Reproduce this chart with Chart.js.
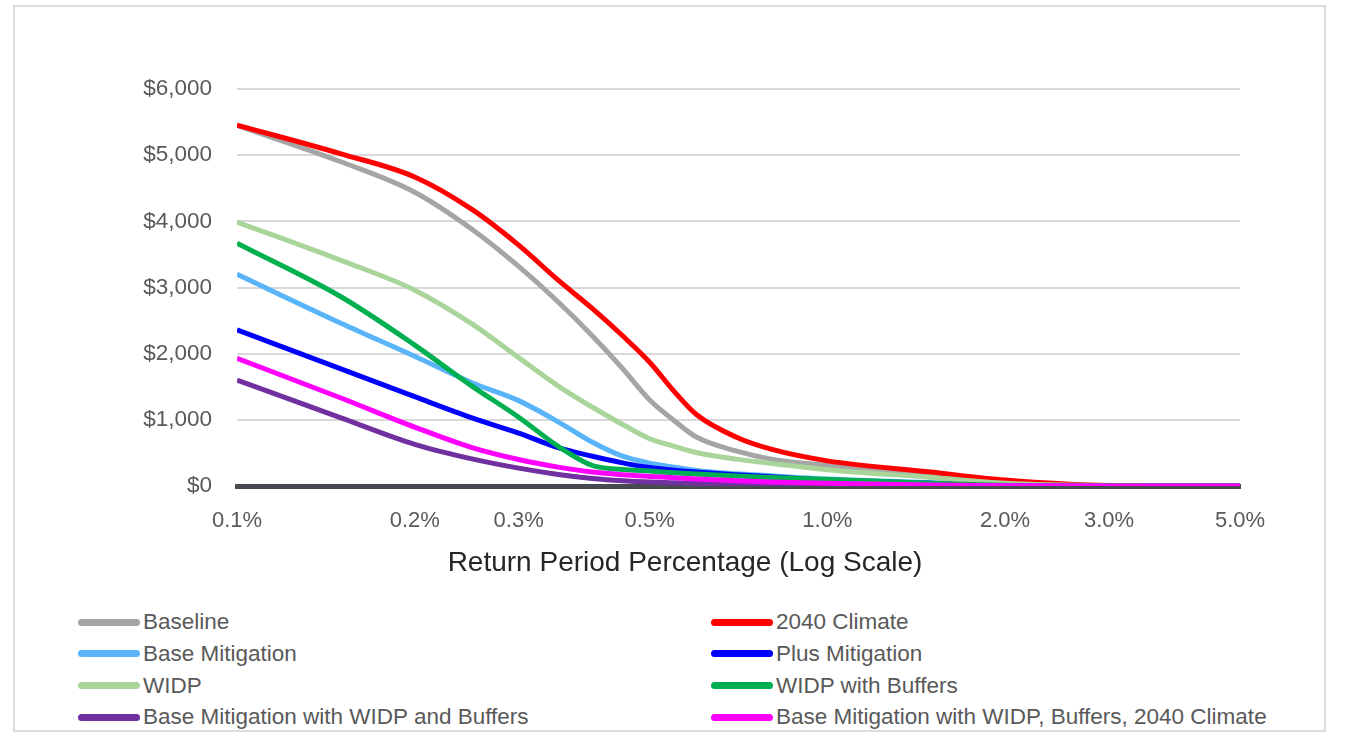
<!DOCTYPE html>
<html>
<head>
<meta charset="utf-8">
<script src="https://cdn.jsdelivr.net/npm/chart.js@4.4.1/dist/chart.umd.min.js"></script>
<style>
  html, body { margin: 0; padding: 0; background: #ffffff; }
  body { width: 1347px; height: 750px; position: relative; overflow: hidden; font-family: "Liberation Sans", Arial, sans-serif; }
  #frame { position: absolute; left: 13px; top: 5px; width: 1309px; height: 723px; border: 2px solid #dcdcdc; box-sizing: content-box; }
  #wrap { position: absolute; left: 0; top: 0; width: 1347px; height: 600px; }
  #xtitle { position: absolute; left: 0; width: 1370px; top: 546px; height: 32px; line-height: 32px; text-align: center; font-size: 28px; color: #262626; white-space: nowrap; }
  #legend { position: absolute; left: 0; top: 606px; width: 1347px; }
  .item { position: absolute; display: flex; align-items: center; height: 32px; font-size: 22.5px; color: #595959; white-space: nowrap; }
  .swatch { width: 62px; height: 7px; border-radius: 4px; margin-right: 3px; }
</style>
</head>
<body>
<div id="frame"></div>
<div id="wrap"><canvas id="c" width="1347" height="600"></canvas></div>
<div id="xtitle">Return Period Percentage (Log Scale)</div>
<div id="legend"></div>
<script>
// ---- data ----
const returnPeriods = [0.1, 0.15, 0.2, 0.25, 0.3, 0.35, 0.4, 0.45, 0.5, 0.55, 0.6, 0.7, 0.8, 1.0, 1.5, 2.0, 3.0, 5.0];
const xTickValues = [0.1, 0.2, 0.3, 0.5, 1.0, 2.0, 3.0, 5.0];

const baseline            = [5450, 4900, 4440, 3880, 3318, 2780, 2268, 1775, 1300, 990, 740, 530, 410, 310, 150, 50, 5, 0];
const climate2040         = [5455, 5020, 4670, 4180, 3640, 3110, 2680, 2270, 1870, 1430, 1080, 740, 560, 380, 210, 90, 8, 0];
const baseMitigation      = [3200, 2460, 1960, 1560, 1290, 970, 660, 450, 345, 285, 235, 185, 155, 105, 50, 15, 0, 0];
const plusMitigation      = [2360, 1770, 1350, 1030, 800, 580, 450, 350, 280, 240, 210, 170, 140, 90, 40, 10, 0, 0];
const widp                = [3990, 3410, 2960, 2450, 1940, 1510, 1190, 930, 715, 600, 506, 406, 345, 245, 130, 40, 5, 0];
const widpBuffers         = [3670, 2860, 2130, 1510, 1040, 600, 310, 250, 225, 200, 180, 150, 130, 100, 40, 10, 0, 0];
const baseWidpBuffers     = [1600, 1030, 630, 410, 270, 175, 115, 80, 60, 50, 40, 30, 20, 10, 5, 0, 0, 0];
const baseWidpBuffers2040 = [1930, 1330, 890, 580, 400, 285, 210, 170, 145, 125, 105, 80, 60, 40, 15, 5, 0, 0];

const seriesNames = [
  "Baseline", "2040 Climate", "Base Mitigation", "Plus Mitigation",
  "WIDP", "WIDP with Buffers", "Base Mitigation with WIDP and Buffers",
  "Base Mitigation with WIDP, Buffers, 2040 Climate"
];
const seriesValues = [baseline, climate2040, baseMitigation, plusMitigation, widp, widpBuffers, baseWidpBuffers, baseWidpBuffers2040];
const seriesColors = ["#a5a5a5", "#ff0000", "#5ab4f9", "#0000ff", "#a9d59b", "#00b050", "#7030a0", "#ff00ff"];

const FONT = '"Liberation Sans", Arial, sans-serif';

const datasets = seriesNames.map((name, i) => ({
  label: name,
  data: returnPeriods.map((x, j) => ({ x: x, y: seriesValues[i][j] })),
  borderColor: seriesColors[i],
  backgroundColor: seriesColors[i],
  borderWidth: 5,
  pointRadius: 0,
  pointHoverRadius: 0,
  fill: false,
  cubicInterpolationMode: 'monotone',
  order: seriesNames.length - i
}));

new Chart(document.getElementById('c'), {
  type: 'line',
  data: { datasets: datasets },
  options: {
    responsive: false,
    animation: false,
    events: [],
    layout: { padding: { left: 0, right: 107, top: 89, bottom: 22 } },
    plugins: { legend: { display: false }, tooltip: { enabled: false } },
    scales: {
      x: {
        type: 'logarithmic',
        min: 0.1,
        max: 5,
        z: 1,
        afterBuildTicks: (scale) => { scale.ticks = xTickValues.map(v => ({ value: v })); },
        afterFit: (scale) => { scale.height = 92; },
        grid: { display: false, drawTicks: false },
        border: { display: true, color: '#474b4f', width: 5 },
        ticks: {
          autoSkip: false,
          maxRotation: 0,
          padding: 22,
          color: '#595959',
          font: { family: FONT, size: 22 },
          callback: (v) => Number(v).toFixed(1) + '%'
        },
        title: { display: false }
      },
      y: {
        min: 0,
        max: 6000,
        afterFit: (scale) => { scale.width = 237; },
        grid: { color: '#d9d9d9', lineWidth: 2, drawTicks: false },
        border: { display: false },
        ticks: {
          stepSize: 1000,
          padding: 25,
          color: '#595959',
          font: { family: FONT, size: 22.5 },
          callback: (v) => '$' + Number(v).toLocaleString('en-US')
        }
      }
    }
  }
});

// ---- HTML legend, two columns ----
const legend = document.getElementById('legend');
const colLeft = [78, 711];
const rowStep = 31.8;
seriesNames.forEach((name, i) => {
  const col = i % 2, row = Math.floor(i / 2);
  const el = document.createElement('div');
  el.className = 'item';
  el.style.left = colLeft[col] + 'px';
  el.style.top = (row * rowStep) + 'px';
  const sw = document.createElement('span');
  sw.className = 'swatch';
  sw.style.background = seriesColors[i];
  const tx = document.createElement('span');
  tx.textContent = name;
  el.appendChild(sw);
  el.appendChild(tx);
  legend.appendChild(el);
});
</script>
</body>
</html>
